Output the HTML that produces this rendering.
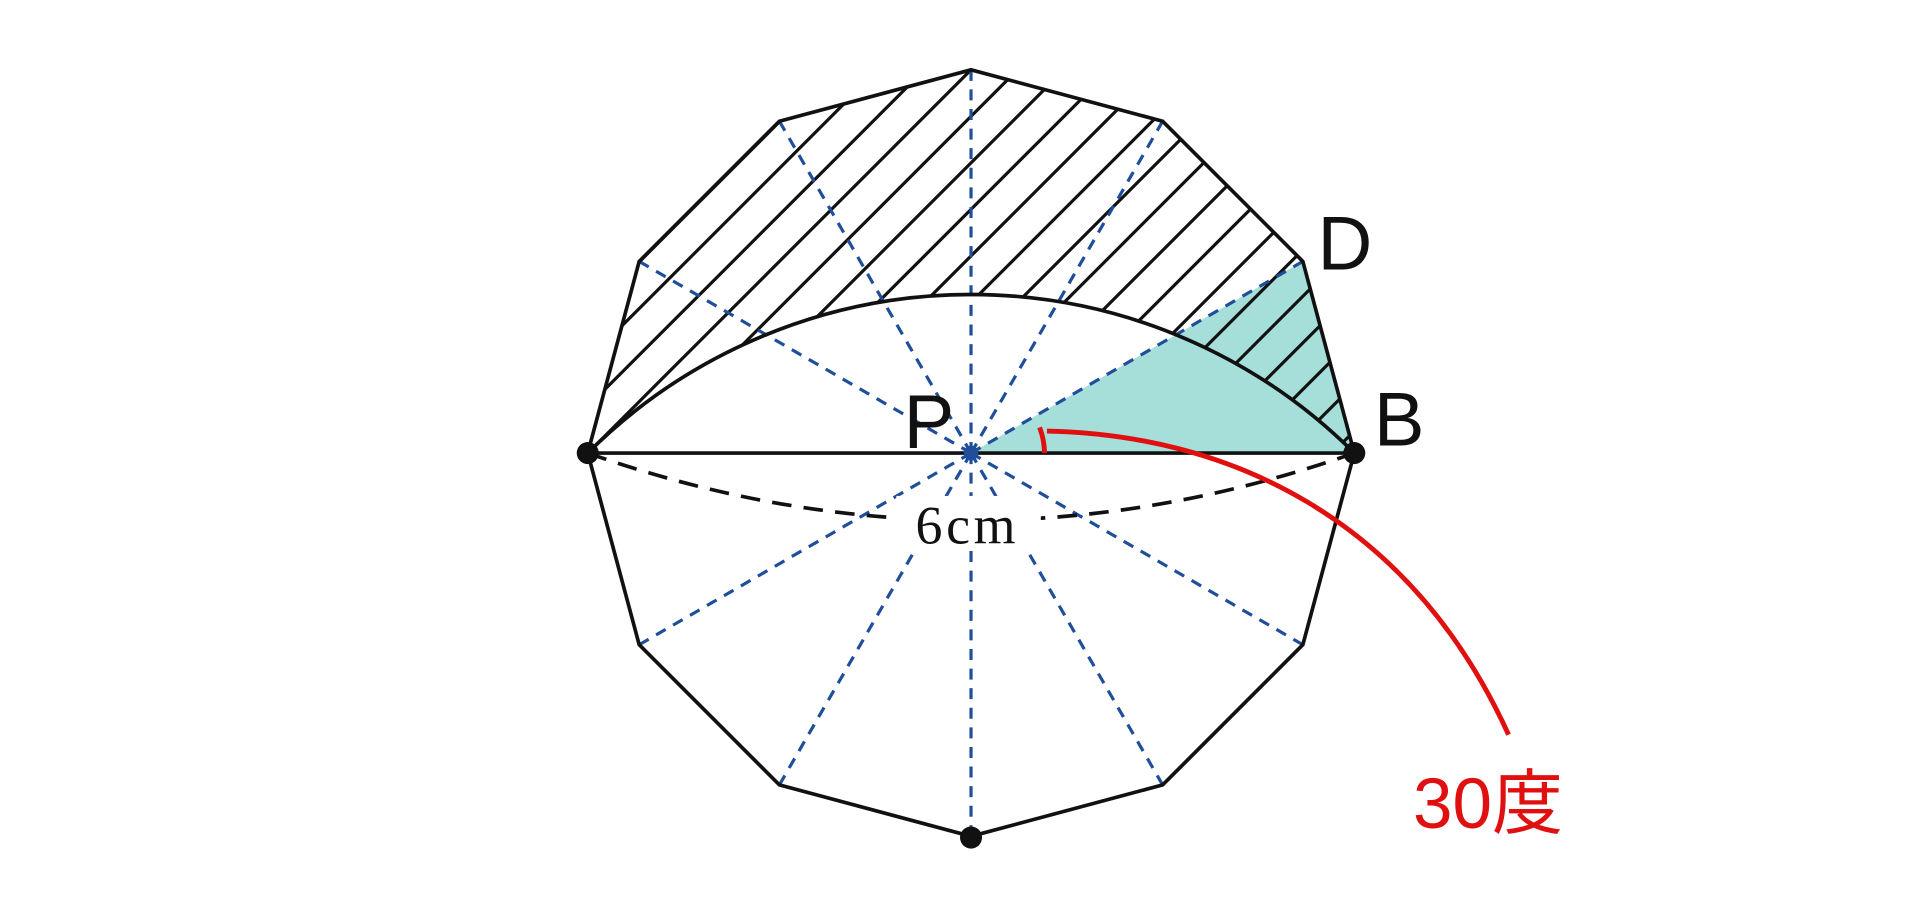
<!DOCTYPE html>
<html><head><meta charset="utf-8"><style>html,body{margin:0;padding:0;background:#fff}svg{display:block}</style></head>
<body>
<svg width="1920" height="909" viewBox="0 0 1568 742.35" preserveAspectRatio="none" xmlns="http://www.w3.org/2000/svg">
<defs>
<clipPath id="c"><path d="M480,370 L522,213.5 L636.5,99 L793,57 L949.5,99 L1064,213.5 L1106,370 A443 443 0 0 0 480 370 Z"/></clipPath>
</defs>
<polygon points="793,370 1064,213.5 1106,370" fill="#a6dfda"/>
<g clip-path="url(#c)" stroke="#111" stroke-width="2.6">
<line x1="336" y1="400" x2="706" y2="30"/>
<line x1="374" y1="400" x2="744" y2="30"/>
<line x1="412" y1="400" x2="782" y2="30"/>
<line x1="450" y1="400" x2="820" y2="30"/>
<line x1="488" y1="400" x2="858" y2="30"/>
<line x1="526" y1="400" x2="896" y2="30"/>
<line x1="564" y1="400" x2="934" y2="30"/>
<line x1="602" y1="400" x2="972" y2="30"/>
<line x1="640" y1="400" x2="1010" y2="30"/>
<line x1="678" y1="400" x2="1048" y2="30"/>
<line x1="716" y1="400" x2="1086" y2="30"/>
<line x1="754" y1="400" x2="1124" y2="30"/>
<line x1="792" y1="400" x2="1162" y2="30"/>
<line x1="830" y1="400" x2="1200" y2="30"/>
<line x1="868" y1="400" x2="1238" y2="30"/>
<line x1="906" y1="400" x2="1276" y2="30"/>
<line x1="944" y1="400" x2="1314" y2="30"/>
<line x1="982" y1="400" x2="1352" y2="30"/>
<line x1="1020" y1="400" x2="1390" y2="30"/>
<line x1="1058" y1="400" x2="1428" y2="30"/>
</g>
<g stroke="#1f4e9a" stroke-width="2.6" stroke-dasharray="9 7" fill="none">
<line x1="793" y1="370" x2="1064" y2="213.5"/>
<line x1="793" y1="370" x2="949.5" y2="99"/>
<line x1="793" y1="370" x2="793" y2="57"/>
<line x1="793" y1="370" x2="636.5" y2="99"/>
<line x1="793" y1="370" x2="522" y2="213.5"/>
<line x1="793" y1="370" x2="522" y2="526.5"/>
<line x1="793" y1="370" x2="636.5" y2="641"/>
<line x1="793" y1="370" x2="793" y2="683"/>
<line x1="793" y1="370" x2="949.5" y2="641"/>
<line x1="793" y1="370" x2="1064" y2="526.5"/>
</g>
<polygon points="1106,370 1064,213.5 949.5,99 793,57 636.5,99 522,213.5 480,370 522,526.5 636.5,641 793,683 949.5,641 1064,526.5" fill="none" stroke="#111" stroke-width="3"/>
<path d="M480,370 A443 443 0 0 1 1106 370" fill="none" stroke="#111" stroke-width="3"/>
<line x1="480" y1="370" x2="1106" y2="370" stroke="#111" stroke-width="3"/>
<path d="M480,370 Q793,480 1106,370" fill="none" stroke="#111" stroke-width="3" stroke-dasharray="16 10"/>
<rect x="732" y="405" width="118" height="45" fill="#fff"/>
<text x="790" y="444" font-family="Liberation Serif, serif" font-size="44" text-anchor="middle" fill="#111" letter-spacing="3">6cm</text>
<path d="M853,370 A60 60 0 0 0 849 349" fill="none" stroke="#e01010" stroke-width="4"/>
<path d="M855,352 C1000,355 1150,420 1232,600" fill="none" stroke="#e01010" stroke-width="4"/>
<circle cx="480" cy="370" r="9" fill="#111"/>
<circle cx="1106" cy="370" r="9" fill="#111"/>
<circle cx="793" cy="684" r="9" fill="#111"/>
<circle cx="793" cy="370" r="6" fill="#1f4e9a"/>
<text x="738" y="366" font-family="Liberation Sans, sans-serif" font-size="62" fill="#111">P</text>
<text x="1076" y="220" font-family="Liberation Sans, sans-serif" font-size="62" fill="#111">D</text>
<text x="1122" y="364" font-family="Liberation Sans, sans-serif" font-size="62" fill="#111">B</text>
<text x="1154" y="676" font-family="Liberation Sans, 'Noto Sans CJK JP', sans-serif" font-size="58" fill="#e01010">30度</text>
</svg>
</body></html>
